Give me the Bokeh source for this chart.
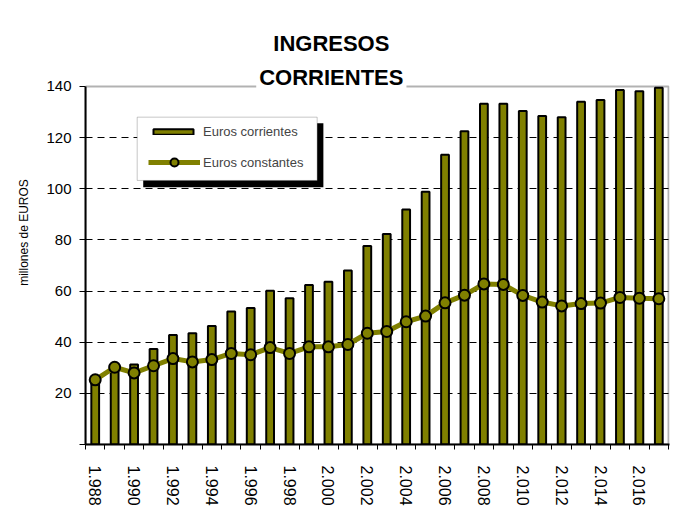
from bokeh.plotting import figure
from bokeh.models import (ColumnDataSource, FixedTicker, Legend, LegendItem,
                          Label, BoxAnnotation, Range1d)
from bokeh.embed import file_html
from bokeh.resources import INLINE

# ---- data ----
years = list(range(1988, 2018))
euros_corrientes = [26.0, 30.5, 31.3, 37.3, 42.8, 43.5, 46.3, 52.0, 53.4, 60.1,
                    57.2, 62.4, 63.6, 68.0, 77.6, 82.3, 91.9, 98.8, 113.3, 122.5,
                    133.2, 133.2, 130.4, 128.5, 128.0, 134.0, 134.7, 138.6, 138.1, 139.5]
euros_constantes = [25.3, 30.2, 28.0, 30.8, 33.6, 32.3, 33.2, 35.6, 35.1, 37.9,
                    35.6, 38.2, 38.2, 39.1, 43.5, 44.2, 48.0, 50.2, 55.4, 58.4,
                    62.8, 62.6, 58.3, 55.7, 54.2, 55.1, 55.3, 57.5, 57.2, 57.0]
y_ticks = [0, 20, 40, 60, 80, 100, 120, 140]
grid_values = [20, 40, 60, 80, 100, 120]
y_max = 140
labelled_years = years[::2]
year_labels = [f"{y // 1000}.{y % 1000:03d}" for y in labelled_years]

OLIVE = "#808000"
FONT = "Liberation Sans"

idx = list(range(len(years)))
src = ColumnDataSource(dict(x=idx, year=years, cur=euros_corrientes, const=euros_constantes))

# y range extends above 140 so that the title (drawn inside the frame) is visible
p = figure(width=675, height=519, output_backend="svg", toolbar_location=None,
           x_range=Range1d(-0.5, len(years) - 0.45), y_range=Range1d(0, 165.8),
           min_border_left=85, min_border_right=6, min_border_top=20, min_border_bottom=75)
p.background_fill_color = "white"
p.border_fill_color = "white"
p.outline_line_color = None

bars = p.vbar(x="x", top="cur", bottom=0, width=0.4, source=src,
              fill_color=OLIVE, line_color="black", line_width=2)
line = p.line(x="x", y="const", source=src, line_color=OLIVE, line_width=5)
pts = p.scatter(x="x", y="const", source=src, marker="circle", size=11,
                fill_color=OLIVE, line_color="black", line_width=2)

# ---- axes ----
xax = p.xaxis[0]
xax.ticker = FixedTicker(ticks=[years.index(y) for y in labelled_years],
                         minor_ticks=[i - 0.5 for i in range(len(years) + 1)])
xax.major_label_overrides = {years.index(y): lab for y, lab in zip(labelled_years, year_labels)}
xax.major_label_orientation = "vertical"
xax.major_tick_out = 0
xax.major_tick_in = 0
xax.minor_tick_out = 5
xax.minor_tick_in = 0
xax.minor_tick_line_color = "black"
xax.axis_line_width = 2
xax.axis_line_color = "black"
xax.major_label_text_font = FONT
xax.major_label_text_font_size = "16px"
xax.major_label_text_color = "black"
xax.major_label_standoff = 16

yax = p.yaxis[0]
yax.bounds = (0, y_max)
yax.ticker = FixedTicker(ticks=y_ticks, minor_ticks=[])
yax.major_label_overrides = {0: ""}
yax.major_tick_out = 6
yax.major_tick_in = 0
yax.major_tick_line_color = "black"
yax.axis_line_width = 2
yax.axis_line_color = "black"
yax.major_label_text_font = FONT
yax.major_label_text_font_size = "15px"
yax.major_label_text_color = "black"
yax.major_label_standoff = 8
yax.axis_label = "millones de EUROS"
yax.axis_label_text_font = FONT
yax.axis_label_text_font_size = "12px"
yax.axis_label_text_font_style = "normal"
yax.axis_label_text_color = "black"
yax.axis_label_standoff = 12

p.xgrid.visible = False
p.ygrid.ticker = FixedTicker(ticks=grid_values)
p.ygrid.grid_line_color = "black"
p.ygrid.grid_line_dash = "7 5"
p.ygrid.grid_line_width = 1

# ---- plot-area frame (0..140) ----
frame = BoxAnnotation(left=-0.5, right=len(years) - 0.5, bottom=0, top=y_max,
                      fill_alpha=0, line_color="black", line_width=2)
p.add_layout(frame)

# ---- legend box with shadow ----
shadow = BoxAnnotation(left=2.47, right=11.74, top=125.6, bottom=100.6,
                       fill_color="black", fill_alpha=1.0, line_color=None)
box = BoxAnnotation(left=2.16, right=11.42, top=128.0, bottom=103.25,
                    fill_color="white", fill_alpha=1.0, line_color="#444444", line_width=1)
p.add_layout(shadow)
p.add_layout(box)

leg_a = Legend(items=[LegendItem(label="Euros corrientes", renderers=[bars])],
               location=(63, 305), glyph_width=50, glyph_height=7, label_standoff=5,
               padding=0, margin=0, spacing=0, border_line_color=None,
               background_fill_alpha=0, label_text_font=FONT, label_text_font_size="13px")
leg_b = Legend(items=[LegendItem(label="Euros constantes", renderers=[line, pts])],
               location=(63, 272), glyph_width=52, glyph_height=20, label_standoff=3,
               padding=0, margin=0, spacing=0, border_line_color=None,
               background_fill_alpha=0, label_text_font=FONT, label_text_font_size="13px")
p.add_layout(leg_a, "center")
p.add_layout(leg_b, "center")

# ---- title ----
TFONT = "Liberation Sans"
t1 = Label(x=12.15, y=156.8, text="INGRESOS", text_align="center", text_baseline="middle",
           text_font=TFONT, text_font_style="bold", text_font_size="22px", text_color="black")
t2 = Label(x=12.15, y=143.5, text="CORRIENTES", text_align="center", text_baseline="middle",
           text_font=TFONT, text_font_style="bold", text_font_size="22px", text_color="black",
           background_fill_color="white", background_fill_alpha=1.0, padding=3)
p.add_layout(t1)
p.add_layout(t2)

open("out.html", "w").write(file_html(p, INLINE))
